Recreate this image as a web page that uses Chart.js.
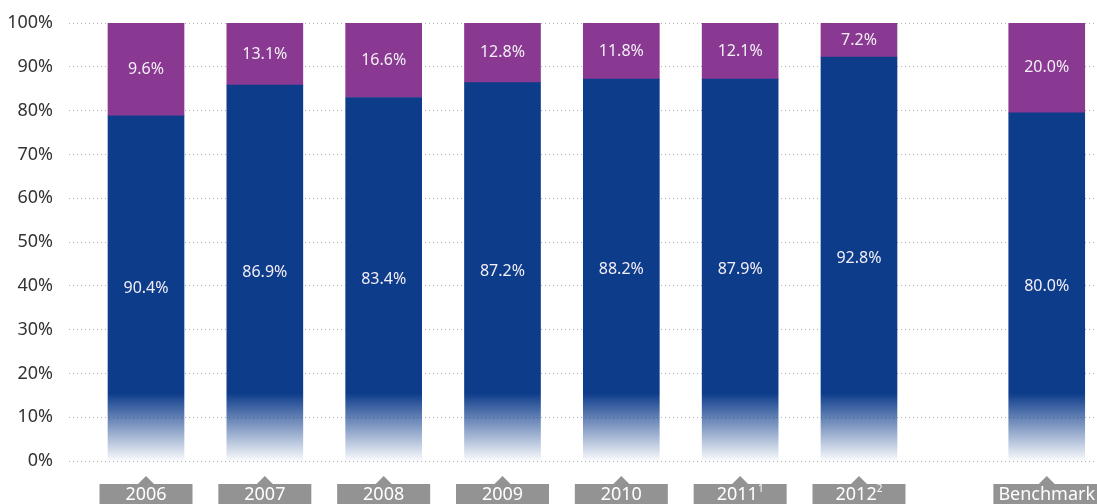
<!DOCTYPE html>
<html lang="en">
<head>
<meta charset="UTF-8">
<title>Share by year</title>
<style>
    html, body {
        margin: 0;
        padding: 0;
        background: #fff;
    }
    .wrap {
        width: 1097px;
        height: 504px;
        position: relative;
    }
</style>
</head>
<body>
<div class="wrap">
    <canvas id="barChart"></canvas>
</div>

<script src="https://cdn.jsdelivr.net/npm/chart.js"></script>
<script>
    // categories along the bottom, with footnote marks
    const categories = ['2006', '2007', '2008', '2009', '2010', '2011', '2012', 'Benchmark'];
    const footnotes  = ['', '', '', '', '', '1', '2', ''];

    // bar heights as drawn (percent of the axis)
    const blueHeights   = [78.8, 85.8, 83.0, 86.4, 87.2, 87.2, 92.2, 79.5];
    const purpleHeights = [21.2, 14.2, 17.0, 13.6, 12.8, 12.8, 7.8, 20.5];

    // the numbers printed on the bars
    const blueLabels   = ['90.4%', '86.9%', '83.4%', '87.2%', '88.2%', '87.9%', '92.8%', '80.0%'];
    const purpleLabels = ['9.6%', '13.1%', '16.6%', '12.8%', '11.8%', '12.1%', '7.2%', '20.0%'];

    const BLUE = '#0d3c8b';
    const PURPLE = '#893991';
    const FONT = "'Noto Sans', 'DejaVu Sans', sans-serif";

    // years sit one unit apart, benchmark a bit further out
    function xPos(i) {
        return i < 7 ? i : 7.58;
    }

    // blue fades out toward the bottom of the bar
    function blueFill(ctx) {
        const chart = ctx.chart;
        if (!chart.chartArea) return BLUE;
        const y = chart.scales.y;
        const g = chart.ctx.createLinearGradient(0, y.getPixelForValue(15.5), 0, y.getPixelForValue(0));
        g.addColorStop(0, BLUE);
        g.addColorStop(1, 'rgba(13,60,139,0.02)');
        return g;
    }

    // write the percentages in the middle of each segment
    const barLabels = {
        id: 'barLabels',
        afterDatasetsDraw(chart) {
            const ctx = chart.ctx;
            ctx.save();
            ctx.fillStyle = '#f4eff6';
            ctx.font = '16px ' + FONT;
            ctx.textAlign = 'center';
            ctx.textBaseline = 'middle';
            chart.data.datasets.forEach((ds, di) => {
                const meta = chart.getDatasetMeta(di);
                meta.data.forEach((bar, i) => {
                    const p = bar.getProps(['x', 'y', 'base'], true);
                    ctx.fillText(ds.labelsText[i], p.x, (p.y + p.base) / 2);
                });
            });
            ctx.restore();
        }
    };

    // grey tags with a little arrow under each bar
    const bottomTags = {
        id: 'bottomTags',
        afterDraw(chart) {
            const ctx = chart.ctx;
            const xs = chart.scales.x;
            const top = 484;
            ctx.save();
            ctx.textBaseline = 'middle';
            categories.forEach((c, i) => {
                const cx = xs.getPixelForValue(xPos(i));
                ctx.font = '18px ' + FONT;
                const tw = ctx.measureText(c).width;
                ctx.font = '10px ' + FONT;
                const sw = footnotes[i] ? ctx.measureText(footnotes[i]).width : 0;
                const w = Math.max(93, tw + sw + 10);

                ctx.fillStyle = '#939393';
                ctx.fillRect(cx - w / 2, top, w, 30);
                ctx.beginPath();
                ctx.moveTo(cx - 8, top);
                ctx.lineTo(cx, top - 8);
                ctx.lineTo(cx + 8, top);
                ctx.closePath();
                ctx.fill();

                ctx.fillStyle = '#ffffff';
                ctx.textAlign = 'left';
                const x0 = cx - (tw + sw) / 2;
                ctx.font = '18px ' + FONT;
                ctx.fillText(c, x0, top + 11);
                if (footnotes[i]) {
                    ctx.font = '10px ' + FONT;
                    ctx.fillText(footnotes[i], x0 + tw, top + 5);
                }
            });
            ctx.restore();
        }
    };

    new Chart(document.getElementById('barChart'), {
        type: 'bar',
        data: {
            datasets: [{
                label: 'blue',
                data: blueHeights.map((v, i) => ({ x: xPos(i), y: v })),
                labelsText: blueLabels,
                backgroundColor: blueFill,
                barThickness: 76,
                borderWidth: 0
            }, {
                label: 'purple',
                data: purpleHeights.map((v, i) => ({ x: xPos(i), y: v })),
                labelsText: purpleLabels,
                backgroundColor: PURPLE,
                barThickness: 76,
                borderWidth: 0
            }]
        },
        options: {
            responsive: true,
            maintainAspectRatio: false,
            animation: false,
            layout: {
                padding: { top: 23, bottom: 43, left: 0, right: 0 }
            },
            plugins: {
                legend: { display: false },
                tooltip: { enabled: false }
            },
            scales: {
                x: {
                    type: 'linear',
                    stacked: true,
                    display: false,
                    offset: false,
                    bounds: 'ticks',
                    min: -0.648,
                    max: 8.003
                },
                y: {
                    stacked: true,
                    min: 0,
                    max: 100,
                    afterFit(scale) {
                        scale.width = 69;
                        scale.paddingTop = 0;
                        scale.paddingBottom = 0;
                    },
                    ticks: {
                        stepSize: 10,
                        padding: 16,
                        color: '#333333',
                        font: { size: 18, family: FONT },
                        callback: v => v + '%'
                    },
                    grid: {
                        drawTicks: false,
                        color: '#b0b0b0',
                        lineWidth: 1
                    },
                    border: {
                        display: false,
                        dash: [1, 3]
                    }
                }
            }
        },
        plugins: [barLabels, bottomTags]
    });
</script>
</body>
</html>
